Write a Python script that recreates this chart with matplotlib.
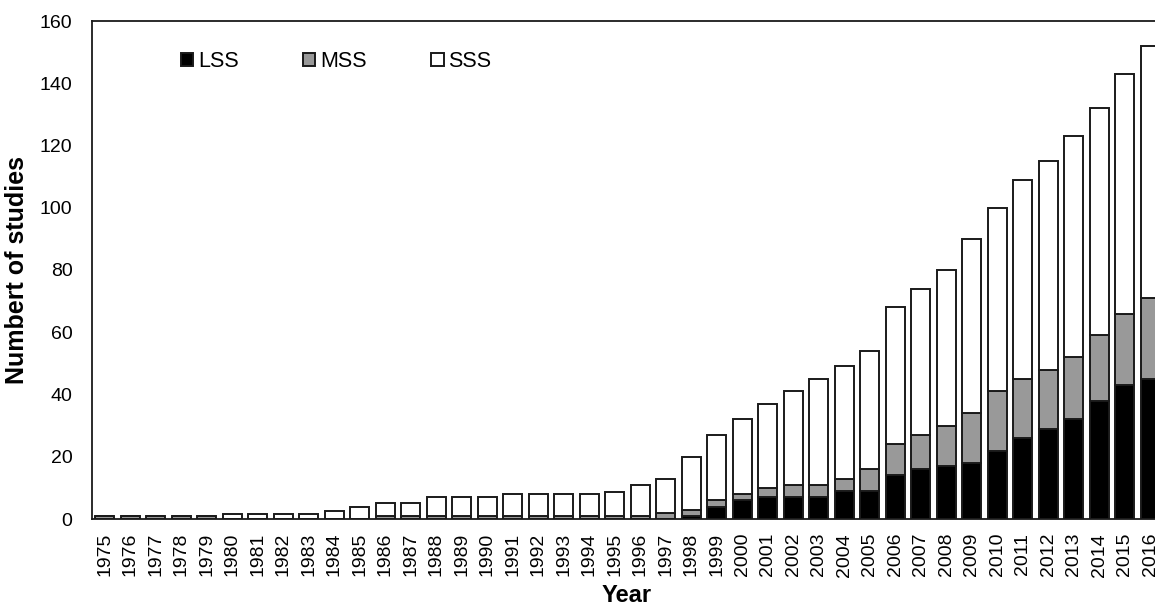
import matplotlib
matplotlib.use('Agg')
import matplotlib.pyplot as plt
import numpy as np

plt.rcParams['font.family'] = ['Liberation Sans', 'DejaVu Sans']

# Dados
anos = [str(a) for a in range(1975, 2017)]

lss = [0, 0, 0, 0, 0, 0, 0, 0, 0, 0, 0, 0, 0, 0, 0, 0, 0, 0, 0, 0, 0, 0, 0,
       1, 4, 6, 7, 7, 7, 9, 9, 14, 16, 17, 18, 22, 26, 29, 32, 38, 43, 45]

mss = [1, 1, 1, 1, 1, 0, 0, 0, 0, 0, 0, 1, 1, 1, 1, 1, 1, 1, 1, 1, 1, 1, 2,
       2, 2, 2, 3, 4, 4, 4, 7, 10, 11, 13, 16, 19, 19, 19, 20, 21, 23, 26]

sss = [0, 0, 0, 0, 0, 1.5, 1.5, 1.5, 1.5, 2.7, 4, 4, 4, 6, 6, 6, 7, 7, 7, 7, 7.6, 10, 11,
       17, 21, 24, 27, 30, 34, 36, 38, 44, 47, 50, 56, 59, 64, 67, 71, 73, 77, 81]

x = np.arange(len(anos))
lss = np.array(lss, dtype=float)
mss = np.array(mss, dtype=float)
sss = np.array(sss, dtype=float)

fig = plt.figure(figsize=(11.55, 6.05), dpi=100)
ax = fig.add_axes([92 / 1155, 86 / 605, 1071 / 1155, 498 / 605])

largura = 0.75
borda = dict(edgecolor='#1a1a1a', linewidth=1.4)
ax.bar(x, lss, largura, color='black', label='LSS', **borda)
ax.bar(x, mss, largura, bottom=lss, color='#999999', label='MSS', **borda)
ax.bar(x, sss, largura, bottom=lss + mss, color='white', label='SSS', **borda)

ax.set_xlim(-0.5, len(anos) - 0.5)
ax.set_ylim(0, 160)
ax.set_yticks(range(0, 161, 20))
ax.set_xticks(x)
ax.set_xticklabels(anos, rotation=90)
ax.tick_params(axis='both', length=0, labelsize=14)
ax.tick_params(axis='y', pad=14)
ax.tick_params(axis='x', pad=10)

for s in ax.spines.values():
    s.set_linewidth(1.3)
    s.set_color('#1a1a1a')

ax.set_ylabel('Numbert of studies', fontsize=18, fontweight='bold', labelpad=8)
fig.text(627 / 1155, 1 - 584 / 605, 'Year', fontsize=17, fontweight='bold',
         ha='center', va='top')

ax.legend(loc='center left', bbox_to_anchor=(0.083, 0.918), ncol=3, frameon=False,
          fontsize=15.5, handlelength=0.56, handleheight=0.56, handletextpad=0.23,
          columnspacing=3.0, borderaxespad=0, borderpad=0)

fig.savefig('out.png', dpi=100)
